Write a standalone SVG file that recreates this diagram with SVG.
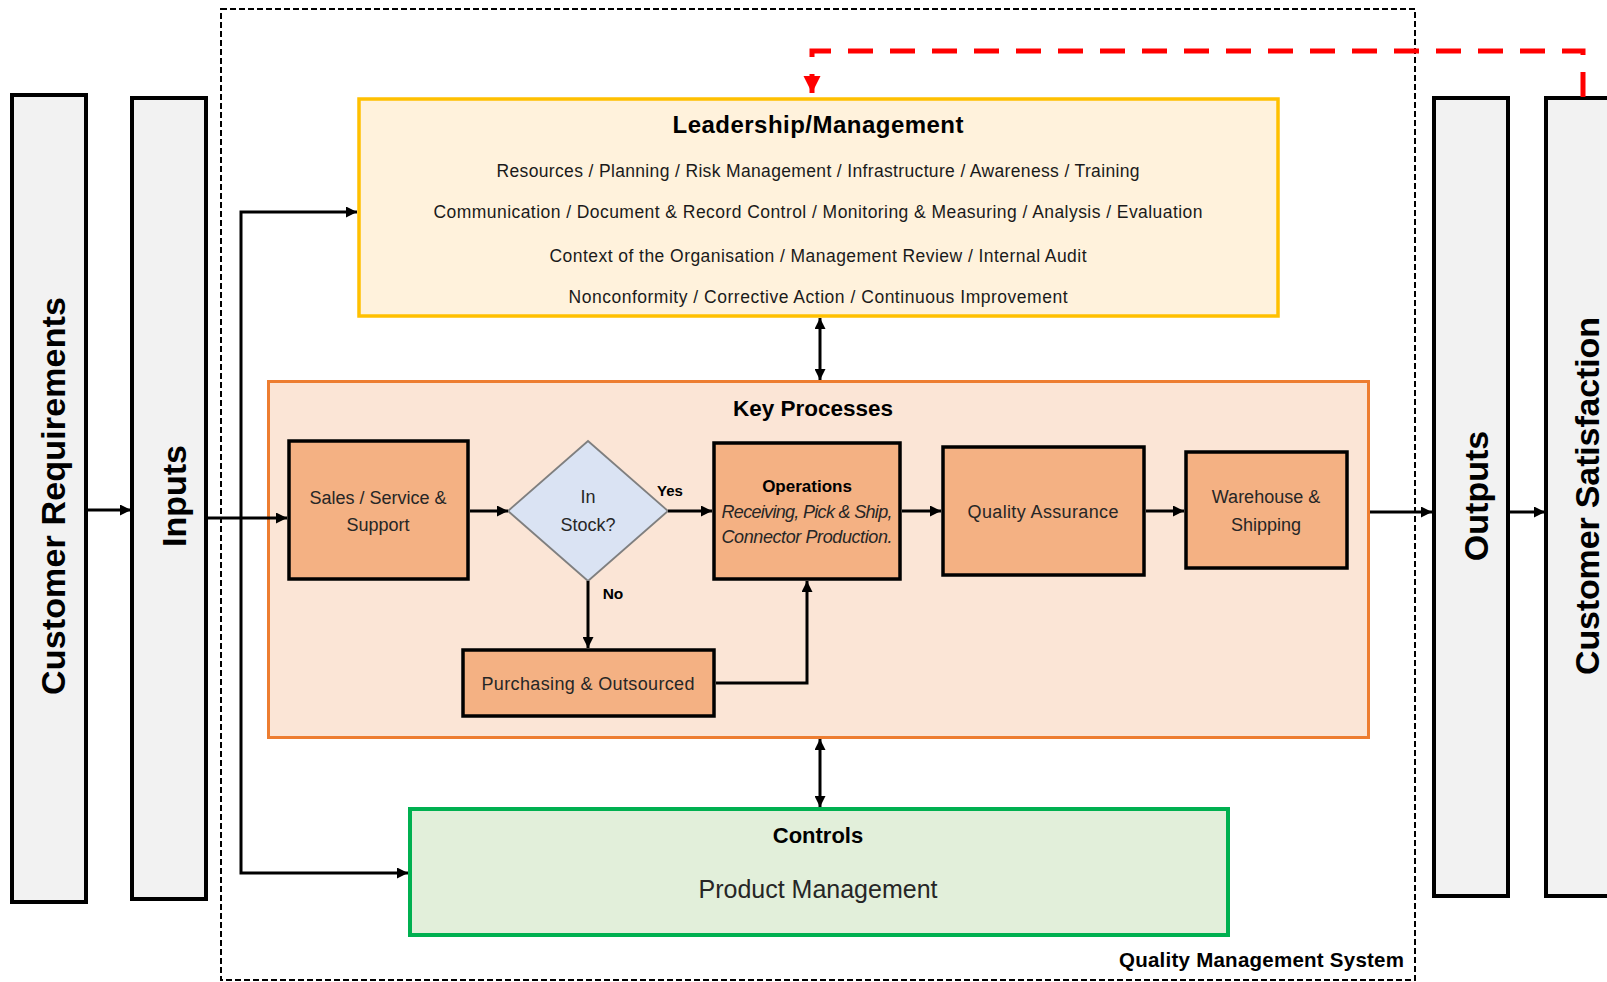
<svg xmlns="http://www.w3.org/2000/svg" width="1607" height="982" viewBox="0 0 1607 982">
<defs>
<marker id="ah" viewBox="0 0 10 10" refX="10" refY="5" markerUnits="userSpaceOnUse" markerWidth="12" markerHeight="11" orient="auto-start-reverse"><path d="M0,0 L10,5 L0,10 z" fill="#000"/></marker>
<marker id="ahr" viewBox="0 0 10 10" refX="10" refY="5" markerUnits="userSpaceOnUse" markerWidth="17" markerHeight="18" orient="auto"><path d="M0,0 L10,5 L0,10 z" fill="#ff0000"/></marker>
<style>
.f{font-family:"Liberation Sans",Arial,sans-serif}
.side{fill:#f2f2f2;stroke:#000;stroke-width:4}
.sideT{font-family:"Liberation Sans",Arial,sans-serif;font-size:34px;font-weight:bold;fill:#000;text-anchor:middle}
.proc{fill:#f4b183;stroke:#000;stroke-width:3.5}
.pt{font-family:"Liberation Sans",Arial,sans-serif;font-size:18px;fill:#262626;text-anchor:middle}
.lt{font-family:"Liberation Sans",Arial,sans-serif;font-size:17.5px;fill:#1a1a1a;text-anchor:middle}
.conn{fill:none;stroke:#000;stroke-width:3}
.b{font-weight:bold}
</style>
</defs>
<rect width="1607" height="982" fill="#fff"/>

<g id="qms">
<rect x="221" y="9" width="1194" height="971" fill="none" stroke="#000" stroke-width="2" stroke-dasharray="6 3"/>
<text class="f b" x="1404" y="967" font-size="20.5" text-anchor="end" textLength="285" fill="#000">Quality Management System</text>
</g>

<g id="customer-requirements">
<rect class="side" x="12" y="95" width="74" height="807"/>
<text class="sideT" transform="translate(65,496) rotate(-90)" textLength="398">Customer Requirements</text>
</g>
<g id="inputs">
<rect class="side" x="132" y="98" width="74" height="801"/>
<text class="sideT" transform="translate(186,496) rotate(-90)">Inputs</text>
</g>
<g id="outputs">
<rect class="side" x="1434" y="98" width="74" height="798"/>
<text class="sideT" transform="translate(1488,496) rotate(-90)">Outputs</text>
</g>
<g id="customer-satisfaction">
<rect class="side" x="1546" y="98" width="100" height="798"/>
<text class="sideT" transform="translate(1599,496) rotate(-90)" textLength="358">Customer Satisfaction</text>
</g>

<g id="leadership">
<rect x="359" y="99" width="919" height="217" fill="#fff2dc" stroke="#ffc000" stroke-width="3.5"/>
<text class="f b" x="818" y="133" font-size="24" text-anchor="middle" textLength="291" fill="#000">Leadership/Management</text>
<text class="lt" x="818" y="177" textLength="643">Resources / Planning / Risk Management / Infrastructure / Awareness / Training</text>
<text class="lt" x="818" y="218" textLength="769">Communication / Document &amp; Record Control / Monitoring &amp; Measuring / Analysis / Evaluation</text>
<text class="lt" x="818" y="262" textLength="537">Context of the Organisation / Management Review / Internal Audit</text>
<text class="lt" x="818" y="303" textLength="499">Nonconformity / Corrective Action / Continuous Improvement</text>
</g>

<g id="key-processes">
<rect x="268.5" y="381.5" width="1100" height="356" fill="#fbe5d6" stroke="#ed7d31" stroke-width="3"/>
<text class="f b" x="813" y="416" font-size="22.5" text-anchor="middle" fill="#000">Key Processes</text>
</g>

<g id="sales">
<rect class="proc" x="289" y="441" width="179" height="138"/>
<text class="pt" x="378" y="504">Sales / Service &amp;</text>
<text class="pt" x="378" y="531">Support</text>
</g>
<g id="in-stock">
<polygon points="588,441 668,511 588,581 508,511" fill="#dae3f3" stroke="#7f7f7f" stroke-width="1.8"/>
<text class="pt" x="588" y="503" font-size="17">In</text>
<text class="pt" x="588" y="531" font-size="17">Stock?</text>
</g>
<g id="operations">
<rect class="proc" x="714" y="443" width="186" height="136"/>
<text class="f b" x="807" y="492" font-size="17" text-anchor="middle" fill="#000">Operations</text>
<text class="pt" x="807" y="518" font-size="16.5" font-style="italic" textLength="171">Receiving, Pick &amp; Ship,</text>
<text class="pt" x="807" y="543" font-size="16.5" font-style="italic" textLength="171">Connector Production.</text>
</g>
<g id="quality-assurance">
<rect class="proc" x="943" y="447" width="201" height="128"/>
<text class="pt" x="1043" y="518" textLength="151">Quality Assurance</text>
</g>
<g id="warehouse">
<rect class="proc" x="1186" y="452" width="161" height="116"/>
<text class="pt" x="1266" y="503">Warehouse &amp;</text>
<text class="pt" x="1266" y="531">Shipping</text>
</g>
<g id="purchasing">
<rect class="proc" x="463" y="650" width="251" height="66"/>
<text class="pt" x="588" y="690" textLength="213">Purchasing &amp; Outsourced</text>
</g>

<g id="controls">
<rect x="410" y="809" width="818" height="126" fill="#e2efda" stroke="#00b050" stroke-width="4"/>
<text class="f b" x="818" y="843" font-size="22" text-anchor="middle" fill="#000">Controls</text>
<text class="f" x="818" y="898" font-size="25" text-anchor="middle" fill="#262626">Product Management</text>
</g>

<g id="connectors">
<path class="conn" d="M88,510 H131" marker-end="url(#ah)"/>
<path class="conn" d="M206,518 H287" marker-end="url(#ah)"/>
<path class="conn" d="M357,212 H241 V873 H408" marker-start="url(#ah)" marker-end="url(#ah)"/>
<path class="conn" d="M470,511 H508" marker-end="url(#ah)"/>
<path class="conn" d="M668,511 H712" marker-end="url(#ah)"/>
<path class="conn" d="M588,581 V648" marker-end="url(#ah)"/>
<path class="conn" d="M716,683 H807 V581" marker-end="url(#ah)"/>
<path class="conn" d="M902,511 H941" marker-end="url(#ah)"/>
<path class="conn" d="M1146,511 H1184" marker-end="url(#ah)"/>
<path class="conn" d="M1370,512 H1432" marker-end="url(#ah)"/>
<path class="conn" d="M1510,512 H1545" marker-end="url(#ah)"/>
<path class="conn" d="M820,318 V380" marker-start="url(#ah)" marker-end="url(#ah)"/>
<path class="conn" d="M820,739 V807" marker-start="url(#ah)" marker-end="url(#ah)"/>
<path d="M1583,97 V51 H812 V93" fill="none" stroke="#ff0000" stroke-width="5" stroke-dasharray="25 17" marker-end="url(#ahr)"/>
<text class="f b" x="670" y="496" font-size="15" text-anchor="middle" fill="#000">Yes</text>
<text class="f b" x="613" y="599" font-size="15.5" text-anchor="middle" fill="#000">No</text>
</g>
</svg>
